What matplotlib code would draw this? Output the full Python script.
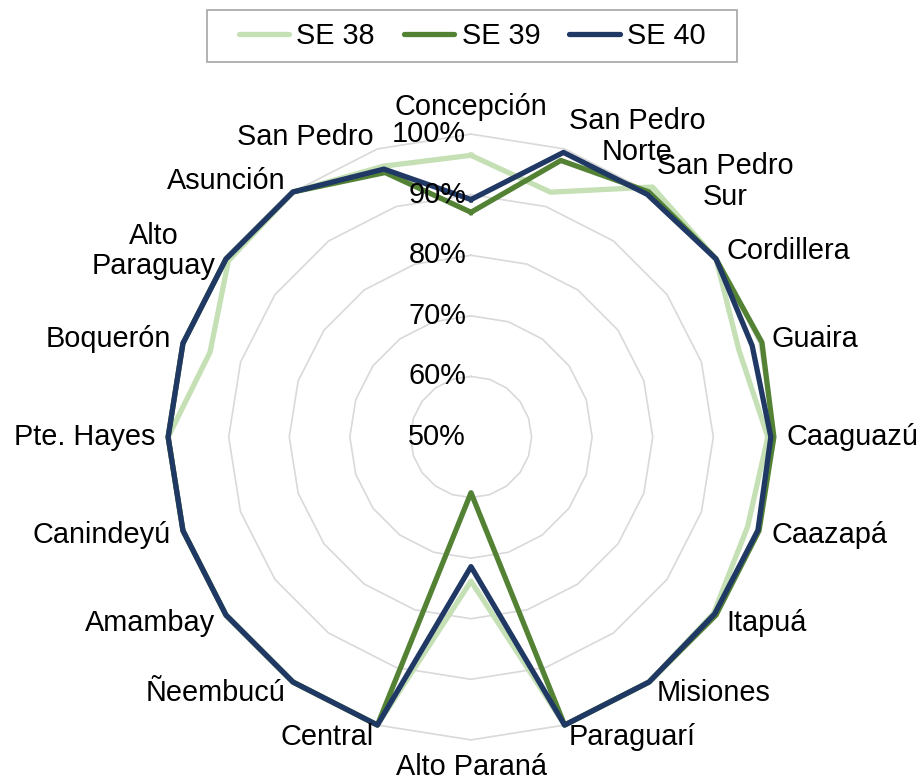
import numpy as np
import matplotlib
matplotlib.use("Agg")
import matplotlib.pyplot as plt
from matplotlib.patches import Rectangle
from matplotlib.transforms import offset_copy

plt.rcParams['font.family'] = ['Liberation Sans', 'DejaVu Sans']

categories = ['Concepción', 'San Pedro\nNorte', 'San Pedro\nSur', 'Cordillera', 'Guaira',
              'Caaguazú', 'Caazapá', 'Itapuá', 'Misiones', 'Paraguarí', 'Alto Paraná',
              'Central', 'Ñeembucú', 'Amambay', 'Canindeyú', 'Pte. Hayes', 'Boquerón',
              'Alto\nParaguay', 'Asunción', 'San Pedro']

se38 = [0.965, 0.925, 1.01, 1.0, 0.965, 0.99, 0.98, 0.995, 1.0, 1.0, 0.738,
        1.0, 1.0, 1.0, 1.0, 1.0, 0.953, 0.995, 1.0, 0.97]
se39 = [0.871, 0.98, 1.0, 1.0, 1.005, 1.0, 1.0, 1.0, 1.0, 1.0, 0.592,
        1.0, 1.0, 1.0, 1.0, 1.0, 1.0, 1.0, 1.0, 0.959]
se40 = [0.892, 0.994, 0.995, 1.0, 0.988, 0.995, 0.998, 0.997, 1.0, 1.0, 0.714,
        1.0, 1.0, 1.0, 1.0, 1.0, 1.0, 1.0, 1.0, 0.965]

series = ['SE 38', 'SE 39', 'SE 40']
colors = ['#C5E0B4', '#548235', '#203864']
ticks = [0.5, 0.6, 0.7, 0.8, 0.9, 1.0]
tick_labels = ['50%', '60%', '70%', '80%', '90%', '100%']

n = len(categories)
angles = np.linspace(0, 2 * np.pi, n, endpoint=False)
ang_c = np.append(angles, angles[0])

fig = plt.figure(figsize=(9.22, 7.84), dpi=100)
ax = fig.add_axes([0.1692, 0.0408, 0.6833, 0.8036], projection='polar')
ax.set_theta_zero_location('N')
ax.set_theta_direction(-1)
ax.set_ylim(0.5, 1.02)
ax.grid(False)
ax.spines['polar'].set_visible(False)
ax.set_xticks([])
ax.set_yticks([])

# polygon gridlines
for t in ticks[1:]:
    ax.plot(ang_c, [t] * (n + 1), color='#D9D9D9', lw=1.2, zorder=1)

fs = 20.8
for vals, name, c in zip([se38, se39, se40], series, colors):
    ax.plot(ang_c, vals + [vals[0]], color=c, lw=3.8, label=name, zorder=3, clip_on=False)

# radial labels
trans = offset_copy(ax.transData, fig=fig, x=-5, y=0, units='dots')
for t, lab in zip(ticks, tick_labels):
    ax.text(0, t, lab, transform=trans, ha='right', va='center', fontsize=fs, zorder=5)

# category labels
for a, lab in zip(angles, categories):
    s = np.sin(a)
    c = np.cos(a)
    if s > 0.01:
        ha = 'left'
    elif s < -0.01:
        ha = 'right'
    else:
        ha = 'center'
    if abs(s) < 0.01:
        va = 'bottom' if c > 0 else 'top'
    else:
        va = 'center'
    ax.text(a, 1.0215, lab, ha=ha, va=va, fontsize=fs, multialignment='center',
            linespacing=1.1, zorder=5)

# legend (frame drawn separately to get Excel-like padding)
leg = fig.legend(loc='center', bbox_to_anchor=(472 / 922, 1 - 36 / 784), ncol=3,
                 fontsize=fs, frameon=False,
                 handlelength=1.75, handletextpad=0.25, columnspacing=1.0,
                 borderpad=0.3, borderaxespad=0)
for h in leg.get_lines():
    h.set_solid_capstyle('round')
fig.patches.append(Rectangle((207 / 922, 1 - 62 / 784), 530 / 922, 52 / 784,
                             transform=fig.transFigure, fill=False,
                             edgecolor='#A6A6A6', lw=1.2))

fig.savefig('out.png', dpi=100)
